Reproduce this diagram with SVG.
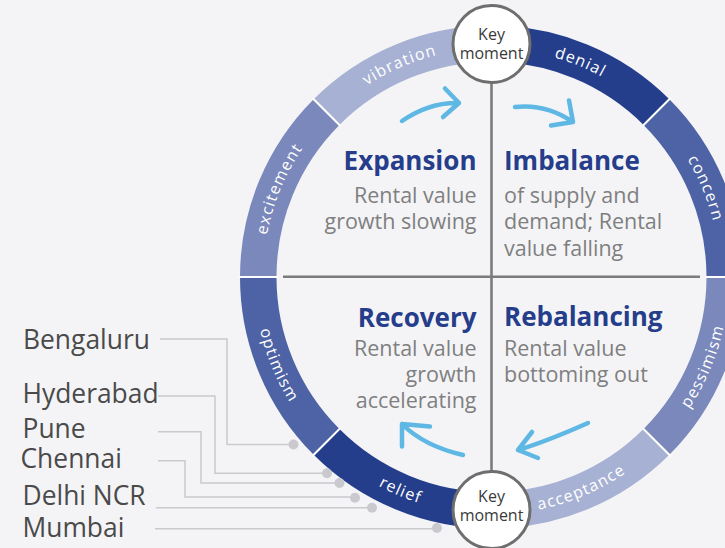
<svg xmlns="http://www.w3.org/2000/svg" width="725" height="548" viewBox="0 0 725 548">
  <style>
    .seg-dark { fill: #243e8b; }
    .seg-mid { fill: #4e63a5; }
    .seg-soft { fill: #7a88bc; }
    .seg-light { fill: #a7b1d3; }
    .sep { stroke: #ffffff; stroke-width: 2; }
    .ring-label { font-family: "Open Sans", "Noto Sans", sans-serif; font-size: 16px; fill: #ffffff; letter-spacing: 1.2px; }
    .axis { stroke: #7b7b7b; stroke-width: 2.6; fill: none; }
    .key circle { fill: #ffffff; stroke: #6e6e6e; stroke-width: 3; }
    .key text { font-family: "Open Sans", "Noto Sans", sans-serif; font-size: 16px; fill: #3a3a3a; text-anchor: middle; }
    .head { font-family: "Open Sans", "Noto Sans", sans-serif; font-weight: 700; font-size: 26px; fill: #253d8a; }
    .body { font-family: "Open Sans", "Noto Sans", sans-serif; font-size: 21.5px; fill: #7f7f7f; }
    .arrow { fill: none; stroke: #5fb8e3; stroke-width: 4.5; stroke-linecap: round; stroke-linejoin: round; }
    .leader { fill: none; stroke: #c9c9ce; stroke-width: 1.5; }
    .dot { fill: #c9c9ce; }
    .city { font-family: "Open Sans", "Noto Sans", sans-serif; font-size: 26.4px; fill: #4a4a4a; }
  </style>
  <defs>
    <!-- baseline arcs for the ring labels: clockwise over the top, anticlockwise under the bottom -->
    <path id="arcTop" d="M 263 277 A 228.5 228.5 0 0 1 720 277"/>
    <path id="arcBottom" d="M 254 277 A 237.5 237.5 0 0 0 729 277"/>
  </defs>

  <rect width="725" height="548" fill="#f4f4f7"/>

  <!-- ring of eight 45-degree segments -->
  <g id="ring">
    <path id="seg-denial" class="seg-dark" d="M 491.5 25.5 A 251.5 251.5 0 0 1 669.34 99.16 L 643.53 124.97 A 215 215 0 0 0 491.5 62 Z"/>
    <path id="seg-concern" class="seg-mid" d="M 669.34 99.16 A 251.5 251.5 0 0 1 743 277 L 706.5 277 A 215 215 0 0 0 643.53 124.97 Z"/>
    <path id="seg-pessimism" class="seg-soft" d="M 743 277 A 251.5 251.5 0 0 1 669.34 454.84 L 643.53 429.03 A 215 215 0 0 0 706.5 277 Z"/>
    <path id="seg-acceptance" class="seg-light" d="M 669.34 454.84 A 251.5 251.5 0 0 1 491.5 528.5 L 491.5 492 A 215 215 0 0 0 643.53 429.03 Z"/>
    <path id="seg-relief" class="seg-dark" d="M 491.5 528.5 A 251.5 251.5 0 0 1 313.66 454.84 L 339.47 429.03 A 215 215 0 0 0 491.5 492 Z"/>
    <path id="seg-optimism" class="seg-mid" d="M 313.66 454.84 A 251.5 251.5 0 0 1 240 277 L 276.5 277 A 215 215 0 0 0 339.47 429.03 Z"/>
    <path id="seg-excitement" class="seg-soft" d="M 240 277 A 251.5 251.5 0 0 1 313.66 99.16 L 339.47 124.97 A 215 215 0 0 0 276.5 277 Z"/>
    <path id="seg-vibration" class="seg-light" d="M 313.66 99.16 A 251.5 251.5 0 0 1 491.5 25.5 L 491.5 62 A 215 215 0 0 0 339.47 124.97 Z"/>
    <g class="sep">
      <line x1="642.82" y1="125.68" x2="670.76" y2="97.74"/>
      <line x1="705.5" y1="277" x2="744" y2="277"/>
      <line x1="642.82" y1="428.32" x2="670.76" y2="456.26"/>
      <line x1="340.18" y1="428.32" x2="312.24" y2="456.26"/>
      <line x1="277.5" y1="277" x2="239" y2="277"/>
      <line x1="340.18" y1="125.68" x2="312.24" y2="97.74"/>
    </g>
    <text class="ring-label" text-anchor="middle"><textPath href="#arcTop" startOffset="12.5%">excitement</textPath></text>
    <text class="ring-label" text-anchor="middle"><textPath href="#arcTop" startOffset="37%">vibration</textPath></text>
    <text class="ring-label" text-anchor="middle"><textPath href="#arcTop" startOffset="62.5%">denial</textPath></text>
    <text class="ring-label" text-anchor="middle"><textPath href="#arcTop" startOffset="87.5%">concern</textPath></text>
    <text class="ring-label" text-anchor="middle"><textPath href="#arcBottom" startOffset="87.3%">pessimism</textPath></text>
    <text class="ring-label" text-anchor="middle"><textPath href="#arcBottom" startOffset="62.8%">acceptance</textPath></text>
    <text class="ring-label" text-anchor="middle"><textPath href="#arcBottom" startOffset="37.2%">relief</textPath></text>
    <text class="ring-label" text-anchor="middle"><textPath href="#arcBottom" startOffset="12.5%">optimism</textPath></text>
  </g>

  <!-- quadrant axes -->
  <g id="connectors">
    <line class="axis" x1="491.5" y1="82" x2="491.5" y2="472"/>
    <line class="axis" x1="283" y1="276.7" x2="700" y2="276.7"/>

    <!-- cycle arrows -->
    <path class="arrow" d="M 402 121 Q 429.5 102 459 103 M 445 88.5 L 459 103 L 443 117"/>
    <path class="arrow" d="M 515 107 Q 546 103.5 573 122 M 569 100.5 L 573 122 L 551 125.5"/>
    <path class="arrow" d="M 588 423 Q 545 442 518 450 M 532 432 L 518 450 L 538 458"/>
    <path class="arrow" d="M 463 455 Q 424 446 402 424 M 430 426.5 L 402 424 L 402 446.5"/>

    <!-- city leaders -->
    <polyline class="leader" points="160,339 227,339 227,444.5 293,444.5"/>
    <polyline class="leader" points="158,396 215,396 215,473.3 327,473.3"/>
    <polyline class="leader" points="158,431.7 201,431.7 201,483 339,483"/>
    <polyline class="leader" points="158,460.7 185,460.7 185,497 355,497"/>
    <polyline class="leader" points="156,507.7 372,507.7"/>
    <polyline class="leader" points="155,528.8 437,528.8"/>
    <circle class="dot" cx="293.5" cy="444.5" r="5"/>
    <circle class="dot" cx="327" cy="473.3" r="5"/>
    <circle class="dot" cx="339.5" cy="483" r="5"/>
    <circle class="dot" cx="355" cy="497.8" r="5"/>
    <circle class="dot" cx="372" cy="507.7" r="5"/>
    <circle class="dot" cx="437" cy="528" r="5"/>
  </g>

  <g id="key-top" class="key">
    <circle cx="491.5" cy="44" r="38.5"/>
    <text x="491.5" y="40">Key</text>
    <text x="491.5" y="58.5">moment</text>
  </g>
  <g id="key-bottom" class="key">
    <circle cx="491.5" cy="510" r="38.5"/>
    <text x="491.5" y="502">Key</text>
    <text x="491.5" y="520.5">moment</text>
  </g>

  <g id="expansion" text-anchor="end">
    <text class="head" x="476.5" y="170">Expansion</text>
    <text class="body" x="476.5" y="202.5">Rental value</text>
    <text class="body" x="476.5" y="229">growth slowing</text>
  </g>
  <g id="imbalance">
    <text class="head" x="504" y="170">Imbalance</text>
    <text class="body" x="504" y="202.5">of supply and</text>
    <text class="body" x="504" y="229">demand; Rental</text>
    <text class="body" x="504" y="255.5">value falling</text>
  </g>
  <g id="recovery" text-anchor="end">
    <text class="head" x="476.5" y="327">Recovery</text>
    <text class="body" x="476.5" y="356">Rental value</text>
    <text class="body" x="476.5" y="382">growth</text>
    <text class="body" x="476.5" y="408">accelerating</text>
  </g>
  <g id="rebalancing">
    <text class="head" x="504" y="326">Rebalancing</text>
    <text class="body" x="504" y="356">Rental value</text>
    <text class="body" x="504" y="382">bottoming out</text>
  </g>

  <g id="cities" class="city">
    <text id="city-bengaluru" x="23" y="349.3">Bengaluru</text>
    <text id="city-hyderabad" x="22.5" y="403.3">Hyderabad</text>
    <text id="city-pune" x="22.5" y="438.3">Pune</text>
    <text id="city-chennai" x="20.5" y="468.3">Chennai</text>
    <text id="city-delhi" x="22.5" y="505">Delhi NCR</text>
    <text id="city-mumbai" x="22.5" y="536.7">Mumbai</text>
  </g>
</svg>
